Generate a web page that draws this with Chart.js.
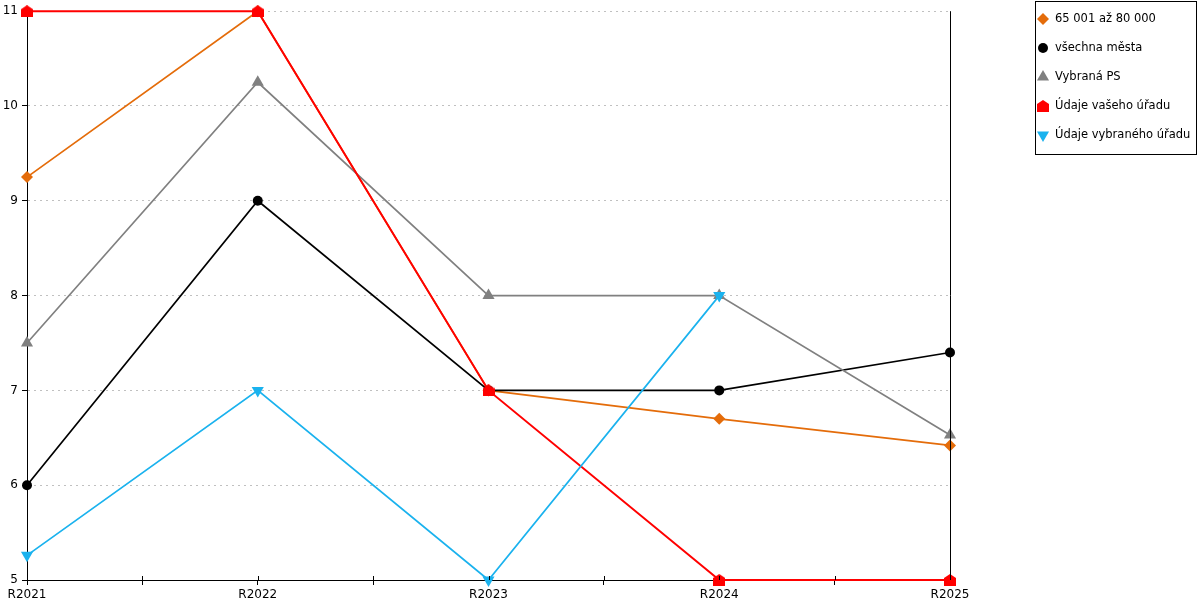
<!DOCTYPE html>
<html>
<head>
<meta charset="utf-8">
<script src="https://cdn.jsdelivr.net/npm/chart.js@4/dist/chart.umd.min.js"></script>
<style>
html,body{margin:0;padding:0;background:#fff;}
#c{display:block;}
</style>
</head>
<body>
<canvas id="c" width="1200" height="600"></canvas>
<script>
const categories = ['R2021','R2022','R2023','R2024','R2025'];
const seriesNames = ['65 001 až 80 000','všechna města','Vybraná PS','Údaje vašeho úřadu','Údaje vybraného úřadu'];
const orangeValues = [9.25, 11, 7, 6.7, 6.42];
const blackValues  = [6, 9, 7, 7, 7.4];
const grayValues   = [7.5, 10.25, 8, 8, 6.53];
const redValues    = [11, 11, 7, 5, 5];
const blueValues   = [5.26, 7, 5, 8, null];
const yTicks = [5,6,7,8,9,10,11];

// house-shaped marker for the red series
const house = document.createElement('canvas');
house.width = 12; house.height = 12;
(function(){
  const g = house.getContext('2d');
  g.fillStyle = '#ff0000';
  g.beginPath();
  g.moveTo(6,0); g.lineTo(12,4); g.lineTo(12,12); g.lineTo(0,12); g.lineTo(0,4);
  g.closePath(); g.fill();
})();

function pts(vals){ return categories.map((c,i)=>({x:i,y:vals[i]})); }

const styles = [
  {color:'#e46c0a', pointStyle:'rectRot', radius:6, rotation:0, order:4, width:1.7},
  {color:'#000000', pointStyle:'circle', radius:5, rotation:0, order:3, width:1.7},
  {color:'#808080', pointStyle:'triangle', radius:7, rotation:0, order:2, width:1.7},
  {color:'#ff0000', pointStyle:house, radius:6, rotation:0, order:1, width:2},
  {color:'#1ab2ee', pointStyle:'triangle', radius:7, rotation:180, order:0, width:1.7}
];
const allValues = [orangeValues, blackValues, grayValues, redValues, blueValues];

const datasets = allValues.map((vals,i)=>({
  label: seriesNames[i],
  data: pts(vals),
  borderColor: styles[i].color,
  backgroundColor: styles[i].color,
  pointBackgroundColor: styles[i].color,
  pointBorderColor: styles[i].color,
  pointBorderWidth: 0,
  pointStyle: styles[i].pointStyle,
  pointRadius: styles[i].radius,
  pointHoverRadius: styles[i].radius,
  pointRotation: styles[i].rotation,
  borderWidth: styles[i].width,
  tension: 0,
  clip: false,
  order: styles[i].order,
  spanGaps: false
}));

const extras = {
  id:'extras',
  afterDraw(chart){
    const ctx = chart.ctx, a = chart.chartArea, xs = chart.scales.x;
    ctx.save();
    ctx.setLineDash([]);
    ctx.strokeStyle = '#000'; ctx.lineWidth = 1;
    // right border
    ctx.beginPath();
    ctx.moveTo(Math.round(a.right)+0.5, a.top); ctx.lineTo(Math.round(a.right)+0.5, a.bottom);
    ctx.stroke();
    // upper halves of x ticks
    xs.ticks.forEach(t=>{
      const px = Math.round(xs.getPixelForValue(t.value))+0.5;
      ctx.beginPath(); ctx.moveTo(px, a.bottom-4); ctx.lineTo(px, a.bottom); ctx.stroke();
    });
    // legend
    ctx.strokeStyle = '#000';
    ctx.strokeRect(1035.5, 1.5, 161, 153);
    ctx.font = '11.5px "DejaVu Sans"';
    ctx.textBaseline = 'middle';
    ctx.textAlign = 'left';
    chart.data.datasets.forEach((ds,i)=>{
      const y = 19 + 29*i;
      ctx.fillStyle = ds.pointBackgroundColor;
      ctx.strokeStyle = ds.pointBorderColor;
      Chart.helpers.drawPoint(ctx, {pointStyle: ds.pointStyle, radius: ds.pointRadius, rotation: ds.pointRotation, borderWidth: 0}, 1043, y);
      ctx.fillStyle = '#000';
      ctx.fillText(ds.label, 1055, y);
    });
    ctx.restore();
  }
};

Chart.defaults.font.family = '"DejaVu Sans"';
Chart.defaults.font.size = 12;
Chart.defaults.color = '#000';

new Chart(document.getElementById('c'), {
  type:'line',
  data:{datasets},
  options:{
    responsive:false,
    devicePixelRatio:1,
    animation:false,
    clip:false,
    layout:{padding:{left:0, top:10, right:250, bottom:0}},
    plugins:{legend:{display:false}, tooltip:{enabled:false}},
    scales:{
      x:{
        type:'linear', min:0, max:categories.length-1,
        afterBuildTicks(s){ s.ticks = []; for(let v=0; v<=categories.length-1; v+=0.5) s.ticks.push({value:v}); },
        ticks:{autoSkip:false, maxRotation:0, padding:3,
          callback(v){ return Number.isInteger(v) ? categories[v] : ''; }},
        grid:{drawOnChartArea:false, tickLength:5, color:'#000', tickColor:'#000'},
        border:{color:'#000', width:1},
        afterFit(s){ s.height = 20; }
      },
      y:{
        min:5, max:11,
        afterBuildTicks(s){ s.ticks = yTicks.map(v=>({value:v})); },
        ticks:{padding:4},
        grid:{color:'#c0c0c0', tickLength:5, tickColor:'#000', tickBorderDash:[], drawTicks:true},
        border:{color:'#000', width:1, dash:[2,4]},
        afterFit(s){ s.width = 27; }
      }
    }
  },
  plugins:[extras]
});
</script>
</body>
</html>
